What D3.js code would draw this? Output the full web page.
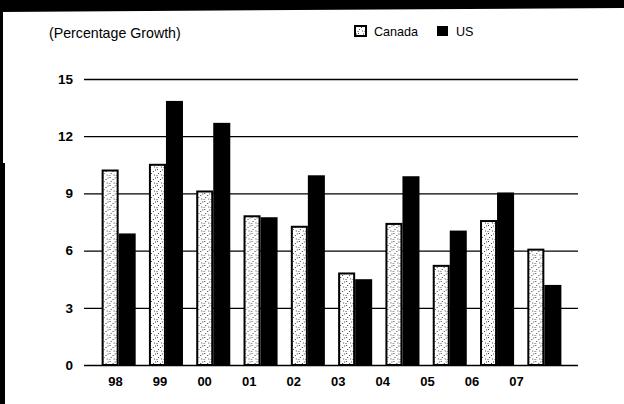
<!DOCTYPE html>
<html>
<head>
<meta charset="utf-8">
<script src="https://cdn.jsdelivr.net/npm/d3@7/dist/d3.min.js"></script>
<style>
  html, body { margin: 0; padding: 0; background: #fff; }
  svg { display: block; }
  text { font-family: "Liberation Sans", Arial, sans-serif; fill: #000; }
</style>
</head>
<body>
<svg id="chart" width="624" height="404"></svg>
<script>
// Annual growth, percent
const years  = ["98", "99", "00", "01", "02", "03", "04", "05", "06", "07"];
const canada = [10.2, 10.5, 9.1, 7.8, 7.25, 4.8, 7.4, 5.2, 7.55, 6.05];
const us     = [6.9, 13.85, 12.7, 7.75, 9.95, 4.5, 9.9, 7.05, 9.05, 4.2];
const seriesNames = ["Canada", "US"];
const yTicks = [0, 3, 6, 9, 12, 15];

const svg = d3.select("#chart");

// stippled fill for the Canada bars
const defs = svg.append("defs");
const pat = defs.append("pattern")
  .attr("id", "stipple")
  .attr("patternUnits", "userSpaceOnUse")
  .attr("width", 7).attr("height", 8);
pat.append("rect").attr("width", 7).attr("height", 8).attr("fill", "#fff");
[[1, 1], [4, 3], [2, 5], [5, 6.5], [0.5, 7], [6, 1.5]].forEach(([cx, cy]) => {
  pat.append("rect").attr("x", cx).attr("y", cy)
    .attr("width", 1).attr("height", 1).attr("fill", "#444");
});

// dark frame edges
svg.append("polygon").attr("points", "0,0 624,0 624,8 0,12").attr("fill", "#000");
svg.append("polygon").attr("points", "0,0 3,0 3,163 5,163 5,404 0,404").attr("fill", "#000");

const y = d3.scaleLinear().domain([0, 15]).range([365, 79]);
const x = d3.scaleBand().domain(years).range([95, 568])
  .paddingInner(0.28).paddingOuter(0.14);
const xs = d3.scaleBand().domain(seriesNames).range([0, x.bandwidth()]);
// the year labels sit on a slightly tighter pitch than the bars
const xLabel = d3.scalePoint().domain(years).range([115, 516]);

const numFont = "'DejaVu Sans', Verdana, sans-serif";

// grid lines with value labels
const gridLeft = 84, gridRight = 578;
const yAxis = svg.append("g")
  .attr("transform", `translate(${gridLeft},0)`)
  .call(d3.axisLeft(y).tickValues(yTicks).tickSize(-(gridRight - gridLeft)).tickPadding(11));
yAxis.select(".domain").remove();
yAxis.selectAll(".tick line").attr("stroke", "#000").attr("stroke-width", 1.3);
yAxis.selectAll(".tick text")
  .attr("font-size", 13.5).attr("font-weight", "bold")
  .attr("font-family", numFont);

// bars
const groups = svg.append("g").selectAll("g")
  .data(years.map((yr, i) => ({ yr, vals: [canada[i], us[i]] })))
  .join("g")
  .attr("transform", d => `translate(${x(d.yr)},0)`);

groups.append("rect")
  .attr("x", xs("Canada") + 1)
  .attr("width", xs.bandwidth() - 2)
  .attr("y", d => y(d.vals[0]))
  .attr("height", d => y(0) - y(d.vals[0]))
  .attr("fill", "url(#stipple)")
  .attr("stroke", "#000").attr("stroke-width", 2);

groups.append("rect")
  .attr("x", xs("US"))
  .attr("width", xs.bandwidth())
  .attr("y", d => y(d.vals[1]))
  .attr("height", d => y(0) - y(d.vals[1]))
  .attr("fill", "#000");

// category labels
const xAxis = svg.append("g")
  .attr("transform", `translate(0,${y(0)})`)
  .call(d3.axisBottom(xLabel).tickSize(0).tickPadding(12));
xAxis.select(".domain").remove();
xAxis.selectAll(".tick text")
  .attr("font-size", 13).attr("font-weight", "bold")
  .attr("font-family", numFont);

// unit caption
svg.append("text").attr("x", 49).attr("y", 38)
  .attr("font-size", 14.2).text("(Percentage Growth)");

// legend
const legend = svg.append("g");
const lx = [355, 437];
seriesNames.forEach((name, i) => {
  legend.append("rect")
    .attr("x", lx[i]).attr("y", 26).attr("width", 11).attr("height", 10)
    .attr("fill", i === 0 ? "url(#stipple)" : "#000")
    .attr("stroke", "#000").attr("stroke-width", i === 0 ? 2 : 0);
  legend.append("text")
    .attr("x", lx[i] + 19).attr("y", 36)
    .attr("font-size", 12.6).text(name);
});
</script>
</body>
</html>
